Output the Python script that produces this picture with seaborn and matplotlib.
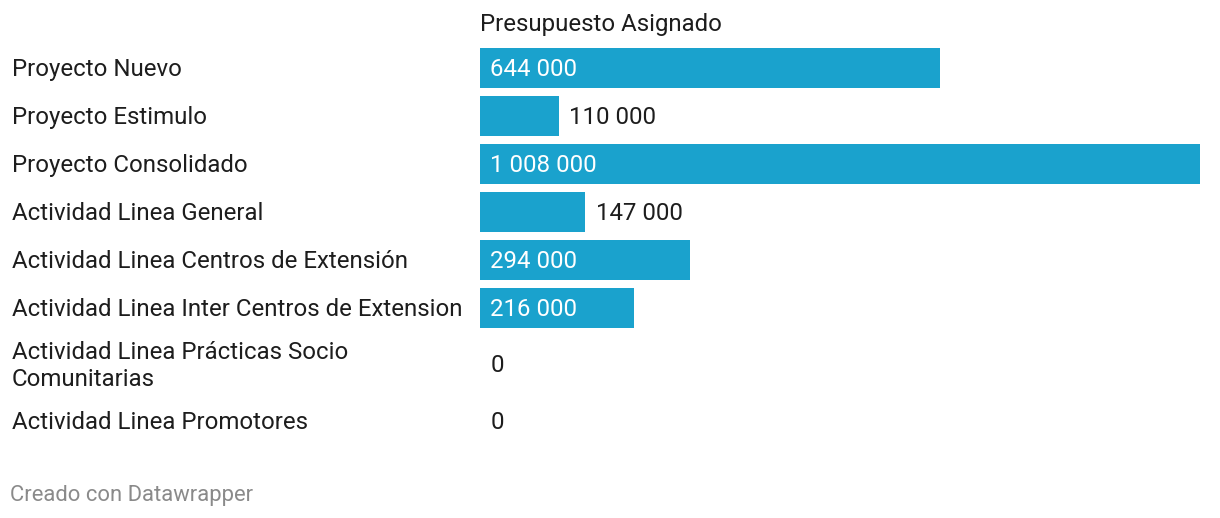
import numpy as np
import pandas as pd
import matplotlib
matplotlib.use("Agg")
import matplotlib.pyplot as plt
import matplotlib.transforms as mtransforms
import seaborn as sns

categories = [
    "Proyecto Nuevo",
    "Proyecto Estimulo",
    "Proyecto Consolidado",
    "Actividad Linea General",
    "Actividad Linea Centros de Extensión",
    "Actividad Linea Inter Centros de Extension",
    "Actividad Linea Prácticas Socio\nComunitarias",
    "Actividad Linea Promotores",
]
values = [644000, 110000, 1008000, 147000, 294000, 216000, 0, 0]
title = "Presupuesto Asignado"
footer = "Creado con Datawrapper"

BAR_COLOR = "#1aa2cd"
TEXT_COLOR = "#1d1d1d"
FS = 17.3

sns.set_theme(style="white")
plt.rcParams["font.family"] = ["Roboto", "DejaVu Sans"]

W, H = 1220, 518
fig = plt.figure(figsize=(W / 100, H / 100), dpi=100)

# row layout in pixels: row height depends on number of label lines
row_h = [48 + 17 * (c.count("\n")) for c in categories]
edges = np.concatenate([[0], np.cumsum(row_h)])
centers = (edges[:-1] + edges[1:]) / 2.0
top_px = 44
total = edges[-1]

ax = fig.add_axes([480 / W, 1 - (top_px + total) / H, 720 / W, total / H])

df = pd.DataFrame({"cat": categories, "value": values, "pos": centers})
sns.barplot(data=df, x="value", y="pos", orient="h", native_scale=True,
            color=BAR_COLOR, saturation=1, width=40 / 48, linewidth=0,
            edgecolor="none", ax=ax)

xmax = max(values)
ax.set_xlim(0, xmax)
ax.set_ylim(total, 0)
ax.set_axis_off()

DY = -1.5 * 0.72  # nudge text slightly down (points)
trans_lbl = mtransforms.offset_copy(
    mtransforms.blended_transform_factory(fig.transFigure, ax.transData),
    fig=fig, x=0, y=DY, units="points")
for c, v, p in zip(df["cat"], df["value"], df["pos"]):
    ax.text(12 / W, p, c, transform=trans_lbl, ha="left", va="center",
            fontsize=FS, color=TEXT_COLOR, linespacing=1.27)
    lbl = f"{v:,}".replace(",", " ")
    inside = v / xmax * 720 > 130
    off = mtransforms.offset_copy(ax.transData, fig=fig,
                                  x=(10 if inside else 10.5) * 0.72, y=DY, units="points")
    if inside:
        ax.text(0, p, lbl, transform=off, ha="left", va="center",
                fontsize=FS, color="white")
    else:
        ax.text(v, p, lbl, transform=off, ha="left", va="center",
                fontsize=FS, color=TEXT_COLOR)

fig.text(480 / W, 1 - 24.5 / H, title, ha="left", va="center",
         fontsize=FS, color=TEXT_COLOR)
fig.text(10 / W, 1 - 496 / H, footer, ha="left", va="center",
         fontsize=15.8, color="#8a8a8a")

fig.savefig("out.png", dpi=100, facecolor="white")
